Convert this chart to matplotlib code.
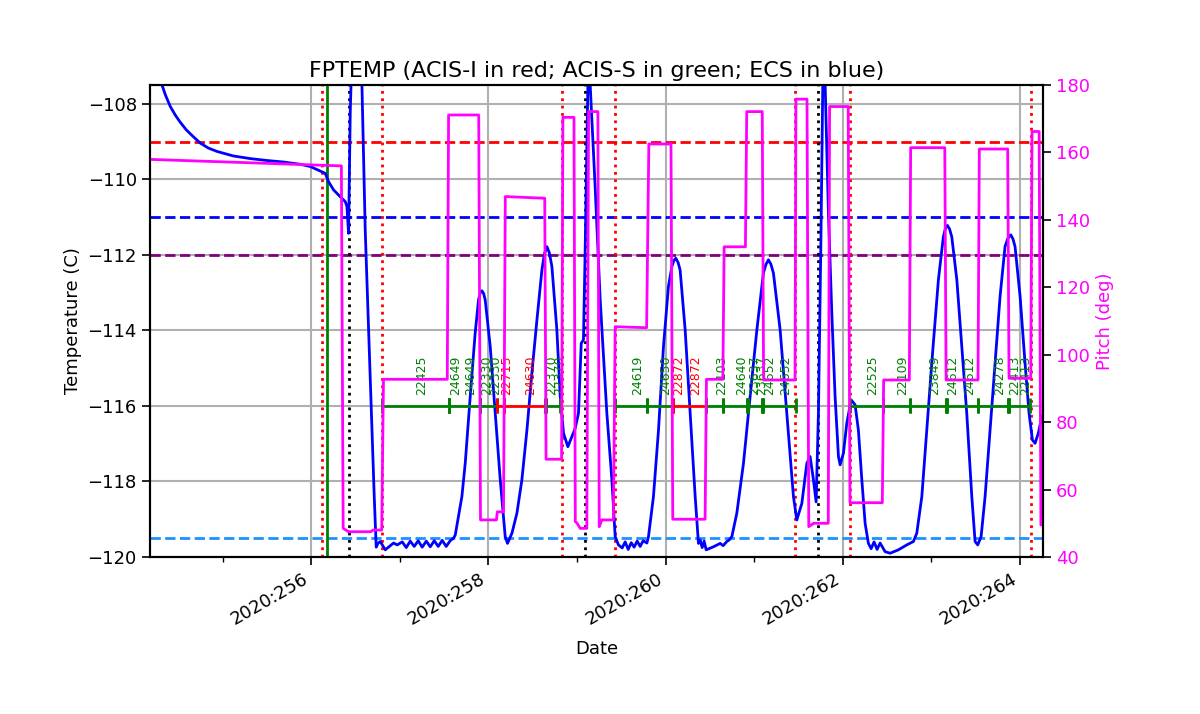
"""
FPTEMP model vs. pitch for the 2020:256 - 2020:264 load, with the
ACIS obsid bars, radzone / perigee markers and the planning limits.

    python plot.py
"""

import matplotlib
matplotlib.use("Agg")
import matplotlib.pyplot as plt
from matplotlib.ticker import MultipleLocator, FuncFormatter

# time axis is fractional day-of-year 2020
TEMP_DAY = [
    254.10, 254.20, 254.315, 254.353, 254.409, 254.466, 254.522, 254.559,
    254.590, 254.669, 254.748, 254.838, 254.936, 255.030, 255.120,
    255.312, 255.500, 255.684, 255.876, 255.989, 256.064, 256.158, 256.195,
    256.252, 256.327, 256.384, 256.403, 256.421, 256.440, 256.451, 256.510,
    256.572, 256.609, 256.666, 256.711, 256.733, 256.752, 256.779, 256.835,
    256.929, 256.970, 257.027, 257.072, 257.117, 257.162, 257.207, 257.252,
    257.298, 257.343, 257.388, 257.433, 257.478, 257.523, 257.568, 257.606,
    257.625, 257.700, 257.738, 257.794, 257.850, 257.888, 257.907, 257.926,
    257.945, 257.963,
    258.020, 258.076, 258.133, 258.189, 258.215, 258.265, 258.321, 258.377,
    258.434, 258.490, 258.547, 258.603, 258.631, 258.659, 258.688, 258.716,
    258.772, 258.810,
    258.847, 258.896, 258.942, 258.979, 259.016, 259.047, 259.072, 259.092,
    259.122, 259.135, 259.148, 259.204, 259.261, 259.336, 259.393, 259.430,
    259.467, 259.509, 259.543, 259.577, 259.611, 259.644, 259.678, 259.712,
    259.746, 259.788, 259.806, 259.862, 259.919, 259.975, 260.031, 260.070,
    260.092, 260.115, 260.140, 260.163, 260.220, 260.276, 260.333, 260.370,
    260.389, 260.412,
    260.434, 260.457, 260.539, 260.615, 260.649, 260.690, 260.716, 260.747,
    260.803, 260.878, 260.953, 261.029, 261.103, 261.132, 261.160, 261.188,
    261.216, 261.292,
    261.367, 261.442, 261.480, 261.537, 261.593, 261.630, 261.668, 261.698,
    261.724, 261.751, 261.773, 261.786, 261.800, 261.837, 261.875, 261.912,
    261.950, 261.969, 262.006, 262.044, 262.093, 262.138, 262.175, 262.214,
    262.251, 262.288, 262.319, 262.352, 262.386, 262.420, 262.477, 262.533,
    262.627, 262.721, 262.796, 262.834, 262.891, 262.947, 263.003, 263.078,
    263.134, 263.157, 263.180, 263.205, 263.229, 263.286, 263.342, 263.398,
    263.455, 263.492,
    263.522, 263.560, 263.605, 263.661, 263.718, 263.774, 263.830, 263.862,
    263.895, 263.920,
    263.943, 264.000, 264.056, 264.101, 264.139, 264.169, 264.206, 264.245,
    264.271,
]
TEMP_C = [
    -105.8, -106.7, -107.50, -107.76, -108.07, -108.30, -108.49, -108.60,
    -108.69, -108.87, -109.04, -109.17, -109.26, -109.32, -109.38,
    -109.45, -109.50, -109.54, -109.60, -109.66, -109.74, -109.84, -110.06,
    -110.28, -110.46, -110.59, -110.72, -111.43, -108.24, -107.30, -104.50,
    -107.50, -111.34, -115.31, -118.41, -119.74, -119.64, -119.59, -119.81,
    -119.63, -119.68, -119.60, -119.75, -119.58, -119.72, -119.57, -119.74,
    -119.58, -119.73, -119.57, -119.72, -119.56, -119.72, -119.57, -119.50,
    -119.42, -118.40, -117.51, -115.75, -114.07, -113.19, -113.00, -112.95,
    -113.02, -113.19,
    -114.43, -116.19, -117.96, -119.46, -119.64, -119.37, -118.84, -117.96,
    -116.64, -115.13, -113.72, -112.40, -111.98, -111.78, -111.95, -112.31,
    -113.99, -115.75,
    -116.72, -117.08, -116.81, -116.59, -116.19, -114.34, -114.25, -111.78,
    -107.50, -106.80, -107.50, -110.20, -113.19, -116.19, -117.96, -119.46,
    -119.68, -119.76, -119.60, -119.80, -119.62, -119.74, -119.58, -119.72,
    -119.57, -119.63, -119.46, -118.40, -116.64, -114.43, -112.84, -112.31,
    -112.15, -112.09, -112.20, -112.40, -113.99, -116.19, -118.40, -119.64,
    -119.55, -119.75,
    -119.58, -119.81, -119.73, -119.64, -119.70, -119.59, -119.55, -119.46,
    -118.84, -117.52, -115.75, -113.99, -112.48, -112.25, -112.13, -112.25,
    -112.48, -113.99,
    -116.19, -118.40, -119.02, -118.58, -117.52, -117.34, -117.96, -118.54,
    -116.19, -111.78, -107.50, -106.80, -107.50, -110.90, -113.54, -115.75,
    -117.34, -117.56, -117.25, -116.46, -115.84, -115.97, -116.64, -117.96,
    -119.11, -119.64, -119.78, -119.60, -119.80, -119.63, -119.86, -119.90,
    -119.81, -119.68, -119.59, -119.37, -118.40, -116.64, -114.87, -112.66,
    -111.52, -111.30, -111.22, -111.32, -111.52, -112.66, -114.43, -116.19,
    -118.40, -119.59,
    -119.68, -119.46, -118.40, -116.64, -114.87, -113.10, -111.78, -111.56,
    -111.47, -111.58,
    -111.78, -113.10, -114.87, -116.19, -116.90, -116.99, -116.72, -116.28,
    -116.19,
]

PITCH_DAY = [
    254.10, 256.34, 256.36, 256.42, 256.67, 256.70, 256.795, 256.815,
    257.535, 257.55, 257.89, 257.91, 258.09, 258.10, 258.17, 258.19,
    258.635, 258.65, 258.825, 258.84, 258.965, 258.98, 259.00, 259.035,
    259.11, 259.13, 259.235, 259.25, 259.28, 259.41, 259.43, 259.785,
    259.81, 260.06, 260.08, 260.445, 260.46, 260.645, 260.66, 260.90,
    260.915, 261.09, 261.105, 261.46, 261.47, 261.595, 261.615, 261.67,
    261.835, 261.85, 262.06, 262.08, 262.445, 262.46, 262.75, 262.765,
    263.15, 263.165, 263.525, 263.54, 263.86, 263.875, 264.12, 264.135,
    264.215, 264.235, 264.30,
]
PITCH_DEG = [
    158.0, 156.0, 48.5, 47.5, 47.5, 48.0, 48.0, 92.7,
    92.7, 171.1, 171.1, 51.0, 51.0, 53.4, 53.4, 146.9,
    146.4, 69.0, 69.0, 170.4, 170.4, 50.5, 50.0, 48.5,
    48.5, 172.1, 172.1, 49.0, 51.0, 51.0, 108.3, 108.0,
    162.5, 162.5, 51.2, 51.2, 92.7, 92.7, 132.0, 132.0,
    172.1, 172.1, 92.5, 92.5, 175.8, 175.8, 49.0, 50.0,
    50.0, 173.6, 173.6, 56.1, 56.1, 92.5, 92.5, 161.4,
    161.4, 92.5, 92.5, 161.0, 161.0, 93.0, 93.0, 166.2,
    166.2, 49.5, 49.5,
]

# science obsids: (obsid, start, stop, instrument)
OBSIDS = [22425, 24649, 24649, 22330, 22330, 22715, 24630, 22370, 22370,
          24619, 24650, 22872, 22872, 22103, 24640, 23637, 23637, 24652,
          24652, 22525, 22109, 23849, 24612, 24612, 24278, 22413, 22413]
OBS_START = [256.80, 257.55, 257.56, 257.90, 257.91, 258.10, 258.17, 258.64,
             258.65, 259.43, 259.79, 260.07, 260.08, 260.46, 260.65, 260.92,
             260.93, 261.09, 261.10, 262.08, 262.45, 262.76, 263.165, 263.175,
             263.53, 263.865, 263.875]
OBS_STOP = [257.55, 257.56, 257.90, 257.91, 258.10, 258.17, 258.64, 258.65,
            258.81, 259.79, 260.07, 260.08, 260.46, 260.65, 260.92, 260.93,
            261.09, 261.10, 261.47, 262.45, 262.76, 263.165, 263.175, 263.53,
            263.865, 263.875, 264.11]
OBS_INSTR = ["S", "S", "S", "S", "S", "I", "I", "S", "S",
             "S", "S", "I", "I", "S", "S", "S", "S", "S",
             "S", "S", "S", "S", "S", "S", "S", "S", "S"]

# planning limits (C)
LIMIT_VALS = [-109.0, -111.0, -112.0, -119.5]
LIMIT_COLORS = ["red", "blue", "purple", "dodgerblue"]

LOAD_START = 256.181
RADZONE_EDGES = [256.124, 256.801, 258.832, 259.430, 261.461, 262.082, 264.124]
PERIGEES = [256.429, 259.092, 261.720]

OBS_Y = -116.0
TEXT_Y = -115.7

plt.rcParams.update({"font.size": 13})


def day_label(x, pos):
    return f"2020:{int(round(x)):03d}"


def main():
    fig = plt.figure(figsize=(12, 7.14), dpi=100)
    ax = fig.add_axes([0.125, 0.2199, 0.7442, 0.6611])

    ax.plot(TEMP_DAY, TEMP_C, color="blue", lw=2, zorder=3)
    for val, col in zip(LIMIT_VALS, LIMIT_COLORS):
        ax.axhline(val, color=col, ls="--", lw=2)

    ax.axvline(LOAD_START, color="green", lw=2)
    for t in RADZONE_EDGES:
        ax.axvline(t, color="red", ls=":", lw=2)
    for t in PERIGEES:
        ax.axvline(t, color="black", ls=":", lw=2)

    for obsid, t0, t1, inst in zip(OBSIDS, OBS_START, OBS_STOP, OBS_INSTR):
        col = "red" if inst == "I" else "green"
        ax.hlines(OBS_Y, t0, t1, color=col, lw=2, zorder=4)
        ax.vlines([t0, t1], OBS_Y - 0.2, OBS_Y + 0.2, color=col, lw=2, zorder=4)
        ax.text(0.5 * (t0 + t1), TEXT_Y, str(obsid), color=col, rotation=90,
                va="bottom", ha="left", fontsize=9, zorder=5)

    ax.set_xlim(254.18, 264.259)
    ax.set_ylim(-120, -107.5)
    ax.xaxis.set_major_locator(MultipleLocator(2))
    ax.xaxis.set_minor_locator(MultipleLocator(1))
    ax.xaxis.set_major_formatter(FuncFormatter(day_label))
    ax.yaxis.set_major_locator(MultipleLocator(2))
    ax.grid(True, color="#b0b0b0", lw=1.5)
    ax.set_axisbelow(True)
    ax.tick_params(which="major", length=6, width=1.2)
    ax.tick_params(which="minor", length=3.5, width=1)
    for lab in ax.get_xticklabels():
        lab.set_rotation(30)
        lab.set_ha("right")
    ax.set_xlabel("Date", labelpad=8)
    ax.set_ylabel("Temperature (C)")
    ax.set_title("FPTEMP (ACIS-I in red; ACIS-S in green; ECS in blue)",
                 fontsize=16)
    for sp in ax.spines.values():
        sp.set_linewidth(1.5)

    ax2 = ax.twinx()
    ax2.plot(PITCH_DAY, PITCH_DEG, color="magenta", lw=2)
    ax2.set_ylim(40, 180)
    ax2.yaxis.set_major_locator(MultipleLocator(20))
    ax2.tick_params(axis="y", labelcolor="magenta", length=6, width=1.2)
    ax2.set_ylabel("Pitch (deg)", color="magenta")
    for sp in ax2.spines.values():
        sp.set_linewidth(1.5)

    fig.savefig("out.png", dpi=100)


if __name__ == "__main__":
    main()
